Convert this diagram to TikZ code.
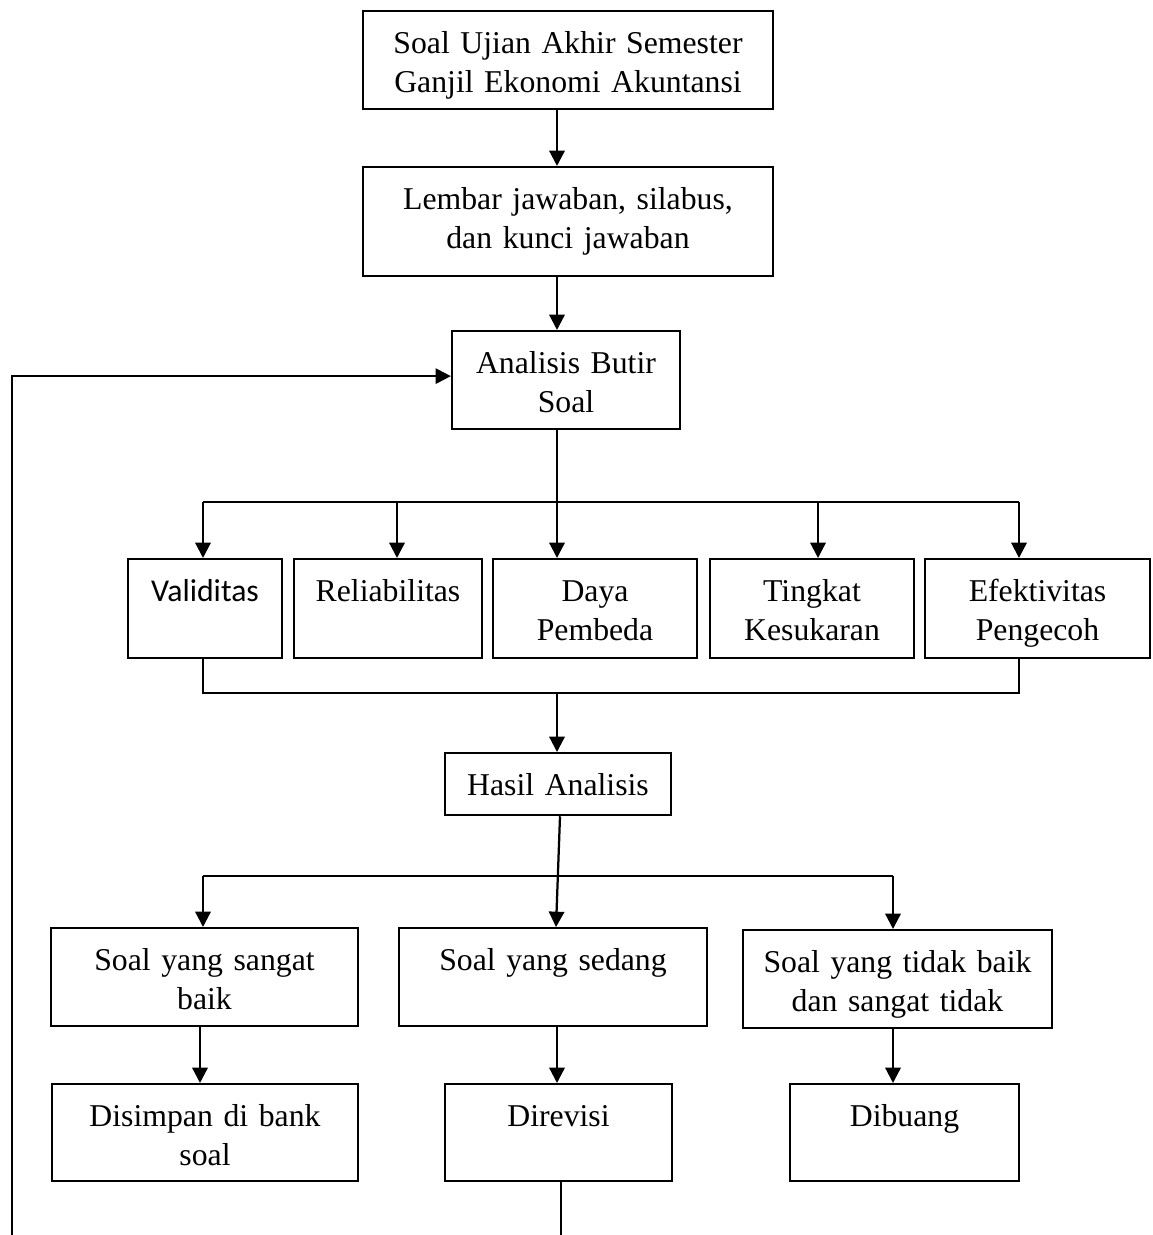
\documentclass[tikz,border=0pt]{standalone}
\usepackage{fontspec}
\setmainfont{Liberation Serif}
\newfontfamily\calibri{Carlito}
\usetikzlibrary{arrows.meta}
\newcommand{\px}{0.378pt}

\begin{document}
\begin{tikzpicture}[x=0.378pt, y=-0.378pt, line width=0.85pt,
  >={Triangle[length=5.8pt,width=5.8pt]},
  box/.style 2 args={draw, anchor=north, inner sep=0pt, align=center,
    font=\fontsize{12pt}{14.8pt}\selectfont,
    text width=#1*\px, text height=42*\px, text depth=(#2-42)*\px}]
\useasboundingbox (0,0) rectangle (1152,1235);

\node[box={410}{98}] (soal) at (568,10) {Soal Ujian Akhir Semester\\Ganjil Ekonomi Akuntansi};
\node[box={410}{109}] (lembar) at (568,166) {Lembar jawaban, silabus,\\dan kunci jawaban};
\node[box={228}{98}] (analisis) at (566,330) {Analisis Butir\\Soal};

\node[box={154}{99}] (valid) at (205,558) {\calibri Validitas};
\node[box={188}{99}] (reli) at (388,558) {Reliabilitas};
\node[box={204}{99}] (daya) at (595,558) {Daya\\Pembeda};
\node[box={204}{99}] (tingkat) at (812,558) {Tingkat\\Kesukaran};
\node[box={225}{99}] (efek) at (1037.5,558) {Efektivitas\\Pengecoh};

\node[box={226}{62}] (hasil) at (558,752) {Hasil Analisis};

\node[box={307}{98}] (baik) at (204.5,927) {Soal yang sangat\\baik};
\node[box={308}{98}] (sedang) at (553,927) {Soal yang sedang};
\node[box={309}{98}] (tidak) at (897.5,929) {Soal yang tidak baik\\dan sangat tidak};

\node[box={306}{97}] (simpan) at (205,1083) {Disimpan di bank\\soal};
\node[box={227}{97}] (revisi) at (558.5,1083) {Direvisi};
\node[box={229}{97}] (buang) at (904.5,1083) {Dibuang};

% main spine
\coordinate (spine) at (557,0);
\draw[->] (soal.south -| spine) -- (lembar.north -| spine);
\draw[->] (lembar.south -| spine) -- (analisis.north -| spine);
\draw[->] (analisis.south -| spine) -- (daya.north -| spine);

% split to the five analyses
\coordinate (fanL) at (203,502);
\coordinate (fanR) at (1019,502);
\draw (fanL) -- (fanR);
\foreach \x/\n in {203/valid, 397/reli, 818/tingkat, 1019/efek} {
  \coordinate (d\n) at (\x,502);
  \draw[->] (d\n) -- (d\n |- \n.north);
}

% join again
\coordinate (mergeL) at (203,693);
\coordinate (mergeR) at (1019,693);
\draw (mergeL |- valid.south) -- (mergeL) -- (mergeR) -- (mergeR |- efek.south);
\draw[->] (spine |- mergeL) -- (hasil.north -| spine);

% three kinds of result
\coordinate (splitL) at (203,876);
\coordinate (splitR) at (893,876);
\draw (splitL) -- (splitR);
\draw[->] (splitL) -- (splitL |- baik.north);
\draw[->] (splitR) -- (splitR |- tidak.north);
\draw[->] ([xshift=2*\px]hasil.south) -- ([xshift=3*\px]sedang.north);

\draw[->] (baik.south -| 200,0) -- (simpan.north -| 200,0);
\draw[->] (sedang.south -| spine) -- (revisi.north -| spine);
\draw[->] (tidak.south -| splitR) -- (buang.north -| splitR);

% back to the analysis
\coordinate (endR) at (561,1235);
\coordinate (endL) at (12,1235);
\draw (revisi.south -| endR) -- (endR);
\draw[->] (endL) |- ([yshift=4*\px]analisis.west);
\end{tikzpicture}
\end{document}
